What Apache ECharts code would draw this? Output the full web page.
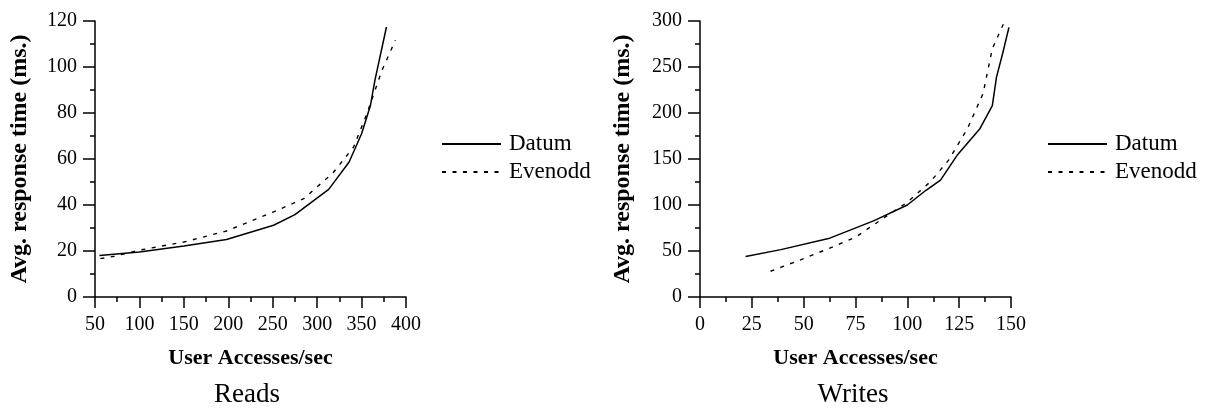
<!DOCTYPE html>
<html>
<head>
<meta charset="utf-8">
<script src="https://cdn.jsdelivr.net/npm/echarts@6/dist/echarts.min.js"></script>
<style>
html,body{margin:0;padding:0;background:#fff;}
#chart{width:1209px;height:410px;}
</style>
</head>
<body>
<div id="chart"></div>
<script>
// Reads panel
const readsDatumX = [55, 100, 150, 198, 251, 275, 313, 336, 350, 360, 365, 378];
const readsDatumY = [18, 19.6, 22.2, 25, 31.2, 35.8, 46.8, 58.7, 71, 83.3, 94.2, 117.4];
const readsEvenoddX = [56, 72, 99, 150, 198, 251, 285, 318, 341, 356, 373, 388];
const readsEvenoddY = [16.7, 17.7, 20.3, 23.9, 28.7, 37, 42.8, 54, 65.2, 79.7, 98.6, 111.6];
// Writes panel
const writesDatumX = [22, 39, 62, 84, 100, 109, 116, 124, 135, 141, 143, 146, 149];
const writesDatumY = [44, 51.5, 63.5, 83, 100, 116, 127, 154, 183, 208, 239, 265, 293];
const writesEvenoddX = [34, 48, 62, 75, 88, 100, 111, 120, 129, 136.5, 141, 147];
const writesEvenoddY = [28, 40, 52.6, 65, 85, 103, 125, 149, 183, 221, 270, 300];

const seriesNames = ['Datum', 'Evenodd'];
const panelTitles = ['Reads', 'Writes'];
const xAxisTitle = 'User Accesses/sec';
const yAxisTitle = 'Avg. response time (ms.)';

const FONT = 'Liberation Serif';
const zip = (xs, ys) => xs.map((x, i) => [x, ys[i]]);

const solid = {color: '#000', width: 1.5, type: 'solid'};
const dotted = {color: '#000', width: 1.4, type: [4, 6.5]};

function xAxis(gridIndex, min, max, interval) {
  return {
    type: 'value', gridIndex, min, max, interval,
    name: xAxisTitle, nameLocation: 'middle', nameGap: 50,
    nameTextStyle: {fontFamily: FONT, fontWeight: 'bold', fontSize: 22, color: '#000'},
    axisLine: {show: true, onZero: false, lineStyle: {color: '#000', width: 1.5}},
    axisTick: {show: true, length: 11, lineStyle: {color: '#000', width: 1.5}},
    minorTick: {show: true, splitNumber: 2, length: 5, lineStyle: {color: '#000', width: 1.5}},
    axisLabel: {fontFamily: FONT, fontSize: 20, color: '#000', margin: 18},
    splitLine: {show: false}
  };
}
function yAxis(gridIndex, min, max, interval, gap) {
  return {
    type: 'value', gridIndex, min, max, interval,
    name: yAxisTitle, nameLocation: 'middle', nameGap: gap, nameRotate: 90,
    nameTextStyle: {fontFamily: FONT, fontWeight: 'bold', fontSize: 24, color: '#000'},
    axisLine: {show: true, onZero: false, lineStyle: {color: '#000', width: 1.5}},
    axisTick: {show: true, length: 12, lineStyle: {color: '#000', width: 1.5}},
    minorTick: {show: true, splitNumber: 2, length: 5, lineStyle: {color: '#000', width: 1.5}},
    axisLabel: {fontFamily: FONT, fontSize: 20, color: '#000', margin: 18},
    splitLine: {show: false}
  };
}
function line(name, data, idx, style) {
  return {
    name, type: 'line', xAxisIndex: idx, yAxisIndex: idx,
    data, showSymbol: false, symbol: 'none', lineStyle: style,
    itemStyle: {color: '#000'}, animation: false, silent: true
  };
}
function legend(left) {
  return {
    orient: 'vertical', left, top: 132, padding: 0,
    itemWidth: 59, itemHeight: 14, itemGap: 4,
    data: seriesNames,
    itemStyle: {opacity: 0},
    textStyle: {fontFamily: FONT, fontSize: 23, color: '#000', lineHeight: 24, padding: [0, 0, 0, 3]},
    selectedMode: false
  };
}
function panelTitle(text, x) {
  return {
    type: 'text', x, y: 395,
    style: {text, fontFamily: FONT, fontSize: 27, fill: '#000', align: 'center', verticalAlign: 'middle'}
  };
}

const chart = echarts.init(document.getElementById('chart'), null, {renderer: 'canvas'});
chart.setOption({
  backgroundColor: '#fff',
  animation: false,
  grid: [
    {left: 95, top: 21, width: 311, height: 276, containLabel: false},
    {left: 700, top: 21, width: 311, height: 276, containLabel: false}
  ],
  xAxis: [xAxis(0, 50, 400, 50), xAxis(1, 0, 150, 25)],
  yAxis: [yAxis(0, 0, 120, 20, 63), yAxis(1, 0, 300, 50, 65)],
  legend: [legend(441), legend(1047)],
  graphic: [panelTitle(panelTitles[0], 247), panelTitle(panelTitles[1], 853)],
  series: [
    line(seriesNames[0], zip(readsDatumX, readsDatumY), 0, solid),
    line(seriesNames[1], zip(readsEvenoddX, readsEvenoddY), 0, dotted),
    line(seriesNames[0], zip(writesDatumX, writesDatumY), 1, solid),
    line(seriesNames[1], zip(writesEvenoddX, writesEvenoddY), 1, dotted)
  ]
});
</script>
</body>
</html>
